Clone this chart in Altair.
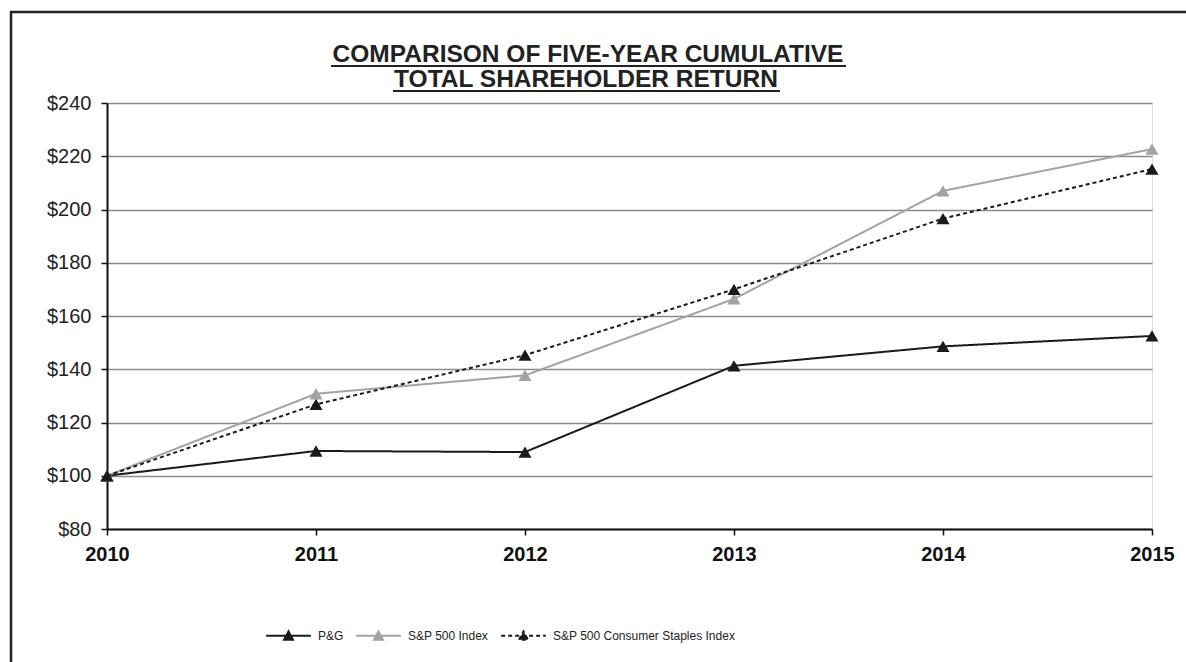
import altair as alt
import pandas as pd

years = [2010, 2011, 2012, 2013, 2014, 2015]
series_names = ["P&G", "S&P 500 Index", "S&P 500 Consumer Staples Index"]
pg = [100, 109.3, 108.9, 141.3, 148.6, 152.5]
sp500 = [100, 130.8, 137.7, 166.4, 207.0, 222.7]
staples = [100, 126.8, 145.3, 170.0, 196.6, 215.2]
y_ticks = [80, 100, 120, 140, 160, 180, 200, 220, 240]
title_lines = ["COMPARISON OF FIVE-YEAR CUMULATIVE", "TOTAL SHAREHOLDER RETURN"]

rows = []
for name, vals in zip(series_names, [pg, sp500, staples]):
    for yr, v in zip(years, vals):
        rows.append({"year": yr, "value": v, "series": name})
df = pd.DataFrame(rows)

FONT = "Liberation Sans"
W, H = 1045, 426

colors = ["#1a1a1a", "#a3a3a3", "#1a1a1a"]
dashes = [[1, 0], [1, 0], [4, 3]]

x_enc = alt.X("year:Q", scale=alt.Scale(domain=[2010, 2015], nice=False, zero=False),
              axis=alt.Axis(values=years, format="d", title=None, grid=False,
                            domainColor="#111", domainWidth=2, tickColor="#111",
                            tickSize=6, tickWidth=1.5, labelPadding=9,
                            labelFont=FONT, labelFontSize=20, labelFontWeight="bold",
                            labelColor="#111", labelFlush=False))
y_enc = alt.Y("value:Q", scale=alt.Scale(domain=[80, 240], nice=False, zero=False),
              axis=alt.Axis(values=y_ticks, labelExpr="'$' + datum.value", title=None,
                            grid=True, gridColor="#8a8a8a", gridWidth=1.3,
                            domainColor="#111", domainWidth=2, tickColor="#111",
                            tickSize=6, tickWidth=1.5, labelPadding=10,
                            labelFont=FONT, labelFontSize=20, labelColor="#222"))

legend = alt.Legend(title=None, orient="none", direction="horizontal",
                    legendX=158, legendY=509, columnPadding=8, labelLimit=400,
                    symbolType="M-1,0H1M-0.2,0.17L0,-0.2L0.2,0.17Z",
                    symbolSize=2000, symbolStrokeWidth=2,
                    labelFont=FONT, labelFontSize=12, labelColor="#222",
                    labelOffset=6)

color_scale = alt.Scale(domain=series_names, range=colors)
dash_scale = alt.Scale(domain=series_names, range=dashes)

lines = alt.Chart(df).mark_line(strokeWidth=2).encode(
    x=x_enc, y=y_enc,
    color=alt.Color("series:N", scale=color_scale, legend=legend, sort=series_names),
    strokeDash=alt.StrokeDash("series:N", scale=dash_scale, legend=legend, sort=series_names),
)
points = alt.Chart(df).mark_point(shape="triangle-up", filled=True, size=170, opacity=1).encode(
    x="year:Q", y="value:Q",
    color=alt.Color("series:N", scale=color_scale, legend=legend, sort=series_names),
)

one = pd.DataFrame({"a": [0]})
border = alt.Chart(one).mark_rect(
    fill=None, stroke="#222", strokeWidth=2.5, clip=False).encode(
    x=alt.value(-96), x2=alt.value(1090), y=alt.value(-91), y2=alt.value(600))

title1 = alt.Chart(pd.DataFrame({"t": [title_lines[0]]})).mark_text(
    font=FONT, fontSize=24.5, fontWeight="bold", color="#222", align="center",
    baseline="alphabetic").encode(text="t:N", x=alt.value(481), y=alt.value(-41))
title2 = alt.Chart(pd.DataFrame({"t": [title_lines[1]]})).mark_text(
    font=FONT, fontSize=24.5, fontWeight="bold", color="#222", align="center",
    baseline="alphabetic").encode(text="t:N", x=alt.value(479), y=alt.value(-16))

underline1 = alt.Chart(one).mark_rule(stroke="#222", strokeWidth=2).encode(
    x=alt.value(224), x2=alt.value(739), y=alt.value(-37))
underline2 = alt.Chart(one).mark_rule(stroke="#222", strokeWidth=2).encode(
    x=alt.value(286), x2=alt.value(673), y=alt.value(-12))

chart = alt.layer(border, lines, points, title1, title2, underline1, underline2).properties(
    width=W, height=H,
    padding={"left": 107, "top": 103, "right": 34, "bottom": 133},
    autosize=alt.AutoSizeParams(type="none"),
).configure_view(stroke="#999", strokeWidth=1.5).configure(background="white")

chart.save("out.html", embed_options={"renderer": "svg", "actions": False})
